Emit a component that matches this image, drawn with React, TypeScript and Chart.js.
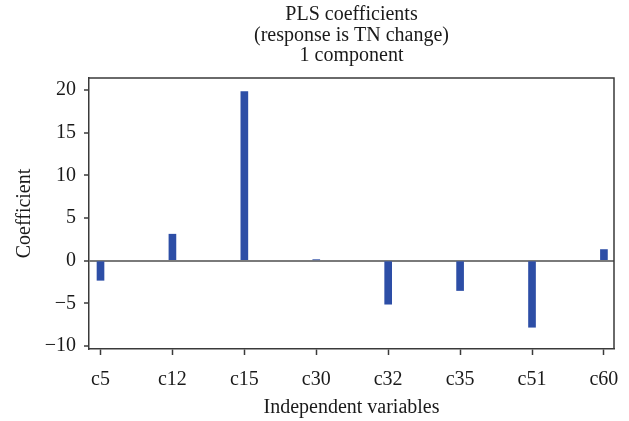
import React, { useEffect, useRef } from "react";
import { Chart, registerables } from "chart.js";

Chart.register(...registerables);

const categories = ["c5", "c12", "c15", "c30", "c32", "c35", "c51", "c60"];
const coefficients = [-2.3, 3.1, 19.8, 0.1, -5.1, -3.5, -7.8, 1.3];
const yTicks = [-10, -5, 0, 5, 10, 15, 20];
const titleLines = ["PLS coefficients", "(response is TN change)", "1 component"];

const FONT = "'Liberation Serif', 'Times New Roman', serif";
const TEXT = "#1a1a1a";
const AXIS = "#3a3a3a";
const FS = 20;

const framePlugin = {
  id: "frameAndTitle",
  afterDatasetsDraw(chart: any) {
    const { ctx, chartArea } = chart;
    ctx.save();
    ctx.strokeStyle = AXIS;
    ctx.lineWidth = 1.5;
    ctx.beginPath();
    ctx.moveTo(chartArea.left, chartArea.top);
    ctx.lineTo(chartArea.right, chartArea.top);
    ctx.lineTo(chartArea.right, chartArea.bottom);
    ctx.stroke();
    ctx.restore();
  },
  afterDraw(chart: any) {
    const { ctx, chartArea } = chart;
    ctx.save();
    ctx.fillStyle = TEXT;
    ctx.font = `${FS}px ${FONT}`;
    ctx.textAlign = "center";
    ctx.textBaseline = "middle";
    const cx = (chartArea.left + chartArea.right) / 2;
    const ys = [15, 36, 56];
    titleLines.forEach((t, i) => ctx.fillText(t, cx, ys[i]));
    ctx.restore();
  },
};

export default function App() {
  const ref = useRef<HTMLCanvasElement | null>(null);

  useEffect(() => {
    document.body.style.margin = "0";
    const canvas = ref.current;
    if (!canvas) return;
    const chart = new Chart(canvas, {
      type: "bar",
      data: {
        datasets: [
          {
            data: categories.map((_, i) => ({ x: i, y: coefficients[i] })),
            backgroundColor: "#2d4ea6",
            borderWidth: 0,
            barThickness: 7,
          },
        ],
      },
      options: {
        animation: false,
        responsive: false,
        maintainAspectRatio: false,
        layout: { padding: { top: 78, right: 15, left: 0, bottom: 0 } },
        plugins: {
          legend: { display: false },
          tooltip: { enabled: false },
          title: { display: false },
        },
        scales: {
          x: {
            type: "linear",
            offset: false,
            min: -0.16,
            max: 7.14,
            afterBuildTicks: (scale: any) => {
              scale.ticks = categories.map((_, i) => ({ value: i }));
            },
            afterFit: (scale: any) => {
              scale.height = 72;
              scale.paddingLeft = 0;
              scale.paddingRight = 0;
            },
            ticks: {
              callback: (v: any) => categories[v as number] ?? "",
              color: TEXT,
              font: { family: FONT, size: FS },
              padding: 13,
              maxRotation: 0,
              autoSkip: false,
            },
            grid: {
              offset: false,
              drawOnChartArea: false,
              drawTicks: true,
              tickLength: 6,
              tickColor: AXIS,
              tickWidth: 1.5,
            },
            border: { display: true, color: AXIS, width: 1.5 },
            title: {
              display: true,
              text: "Independent variables",
              color: TEXT,
              font: { family: FONT, size: FS },
              padding: { top: 0, bottom: 1 },
            },
          },
          y: {
            type: "linear",
            min: -10.35,
            max: 21.4,
            afterBuildTicks: (scale: any) => {
              scale.ticks = yTicks.map((v) => ({ value: v }));
            },
            afterFit: (scale: any) => {
              scale.width = 89;
              scale.paddingTop = 0;
              scale.paddingBottom = 0;
            },
            ticks: {
              color: TEXT,
              font: { family: FONT, size: FS },
              padding: 8,
              callback: (v: any) => (v < 0 ? "\u2212" + Math.abs(v) : String(v)),
            },
            grid: {
              drawOnChartArea: true,
              drawTicks: true,
              tickLength: 5,
              color: (c: any) => (c.tick && c.tick.value === 0 ? "#7a7a7a" : "rgba(0,0,0,0)"),
              lineWidth: 2,
              tickColor: AXIS,
              tickWidth: 1.5,
            },
            border: { display: true, color: AXIS, width: 1.5 },
            title: {
              display: true,
              text: "Coefficient",
              color: TEXT,
              font: { family: FONT, size: FS },
              padding: { top: 13, bottom: 0 },
            },
          },
        },
      },
      plugins: [framePlugin],
    });
    return () => chart.destroy();
  }, []);

  return (
    <div style={{ width: 629, height: 421 }}>
      <canvas ref={ref} width={629} height={421} style={{ display: "block" }} />
    </div>
  );
}
